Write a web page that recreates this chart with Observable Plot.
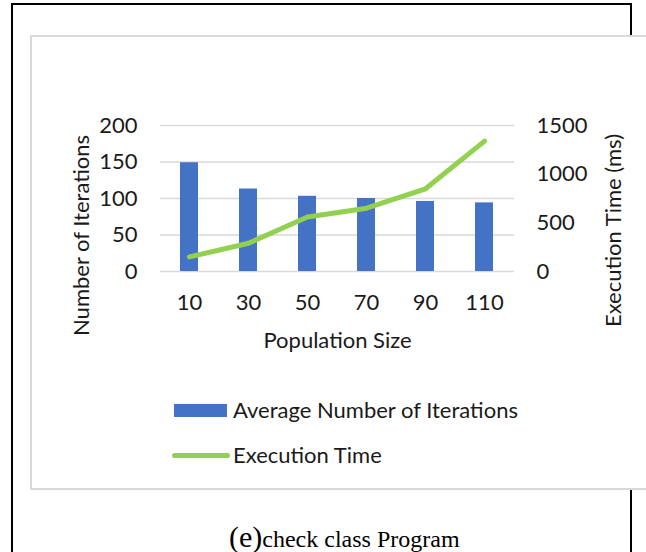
<!DOCTYPE html>
<html><head><meta charset="utf-8">
<script src="https://cdn.jsdelivr.net/npm/d3@7"></script>
<script src="https://cdn.jsdelivr.net/npm/@observablehq/plot@0.6"></script>
<style>
body{margin:0;background:#fff;}
#page{position:relative;width:646px;height:552px;overflow:hidden;background:#fff;font-family:Lato,sans-serif;}
.bl{position:absolute;background:#000;}
#box{position:absolute;left:30px;top:35px;width:640px;height:451px;border:2px solid #d9d9d9;background:#fff;}
.plot{position:absolute;left:30px;top:35px;}
.leg{position:absolute;font-family:Lato,sans-serif;font-size:22px;color:#1a1a1a;white-space:nowrap;line-height:1;}
#caption{position:absolute;left:229px;top:522px;font-family:"Liberation Serif",serif;font-size:24px;line-height:30px;color:#000;white-space:nowrap;}
#caption .big{font-size:30px;}
</style></head><body>
<div id="page">
  <div class="bl" style="left:11px;top:3px;width:621px;height:2px;"></div>
  <div class="bl" style="left:11px;top:3px;width:2px;height:560px;"></div>
  <div class="bl" style="left:630px;top:3px;width:2px;height:560px;"></div>
  <div id="box"></div>
  <div id="p1" class="plot"></div>
  <div id="p2" class="plot"></div>
  <div class="leg" style="left:174px;top:404px;width:53px;height:13px;background:#4472c4;"></div>
  <div class="leg" style="left:233px;top:399px;">Average Number of Iterations</div>
  <div class="leg" style="left:172px;top:453px;width:58px;height:5px;border-radius:3px;background:#92d050;"></div>
  <div class="leg" style="left:233px;top:444px;">Execution Time</div>
  <div id="caption"><span class="big">(e)</span>check class Program</div>
</div>
<script>
const populationSizes = ["10", "30", "50", "70", "90", "110"];
const avgIterations = [149, 113, 103, 100, 96, 94];
const executionTimeMs = [150, 290, 560, 650, 850, 1340];
const leftTicks = [0, 50, 100, 150, 200];
const rightTicks = [0, 500, 1000, 1500];
const xLabel = "Population Size";
const leftLabel = "Number of Iterations";
const rightLabel = "Execution Time (ms)";

const data = populationSizes.map((s, i) => ({size: s, iter: avgIterations[i], time: executionTimeMs[i]}));

const common = {
  width: 616, height: 454,
  marginLeft: 130, marginRight: 132, marginTop: 90, marginBottom: 218,
  style: {fontFamily: "Lato, sans-serif", fontSize: "22px", color: "#1a1a1a", background: "transparent", overflow: "visible"},
  x: {type: "band", domain: populationSizes, paddingInner: 0.69, paddingOuter: 0.345}
};

const p1 = Plot.plot({
  ...common,
  y: {domain: [0, 200]},
  marks: [
    Plot.gridY(leftTicks, {stroke: "#d9d9d9", strokeOpacity: 1, strokeWidth: 1.5}),
    Plot.barY(data, {x: "size", y: "iter", fill: "#4472c4"}),
    Plot.axisY({ticks: leftTicks, tickSize: 0, tickPadding: 23, label: null}),
    Plot.axisX({tickSize: 0, tickPadding: 23, label: null}),
    Plot.text([leftLabel], {frameAnchor: "left", rotate: -90, textAnchor: "middle", lineAnchor: "top", dx: -87, dy: 37, fill: "#1a1a1a"}),
    Plot.text([xLabel], {frameAnchor: "bottom", textAnchor: "middle", lineAnchor: "top", dy: 61, fill: "#1a1a1a"})
  ]
});
document.getElementById("p1").appendChild(p1);

const p2 = Plot.plot({
  ...common,
  x: {...common.x, axis: null},
  y: {domain: [0, 1500], axis: null},
  marks: [
    Plot.line(data, {x: "size", y: "time", stroke: "#92d050", strokeWidth: 5, strokeLinecap: "round", strokeLinejoin: "round"}),
    Plot.axisY({anchor: "right", ticks: rightTicks, tickFormat: d3.format("d"), tickSize: 0, tickPadding: 22, label: null}),
    Plot.text([rightLabel], {frameAnchor: "right", rotate: -90, textAnchor: "middle", lineAnchor: "top", dx: 91, dy: 32, fill: "#1a1a1a"})
  ]
});
document.getElementById("p2").appendChild(p2);
</script>
</body></html>
